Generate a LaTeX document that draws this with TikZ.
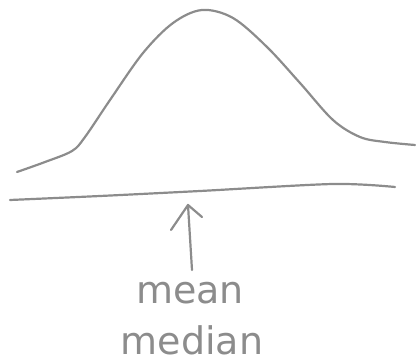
\documentclass[tikz,border=0pt]{standalone}
\usepackage{fontspec}
\setmainfont{DejaVu Sans}
\usetikzlibrary{arrows.meta}
\definecolor{pencil}{gray}{0.55}
\tikzset{
  sketch/.style={draw=pencil, line width=2.2pt, line cap=round, line join=round},
  hand/.style={text=pencil, font=\fontsize{38}{40}\selectfont, inner sep=0pt}
}
\begin{document}
\begin{tikzpicture}[x=1pt,y=-1pt]
\useasboundingbox (0,0) rectangle (416,364);
% bell curve
\draw[sketch] plot[smooth, tension=0.55] coordinates {(17,172) (45,162) (72,151) (85,137) (110,100) (143,53) (173,23) (202,10) (233,18) (267,47) (300,83) (333,120) (360,137) (385,142) (415,145)};
% baseline
\draw[sketch] plot[smooth, tension=0.5] coordinates {(10,200) (100,196) (200,191) (333,184) (395,187)};
% arrow
\coordinate (tip) at (188,205);
\node[hand] (mean) at (190,293) {mean};
\node[hand] (median) at (192,340) {median};
\draw[sketch] (192,270) -- (tip);
\draw[sketch] (171,230) -- (tip) -- (202,217);
\end{tikzpicture}
\end{document}
